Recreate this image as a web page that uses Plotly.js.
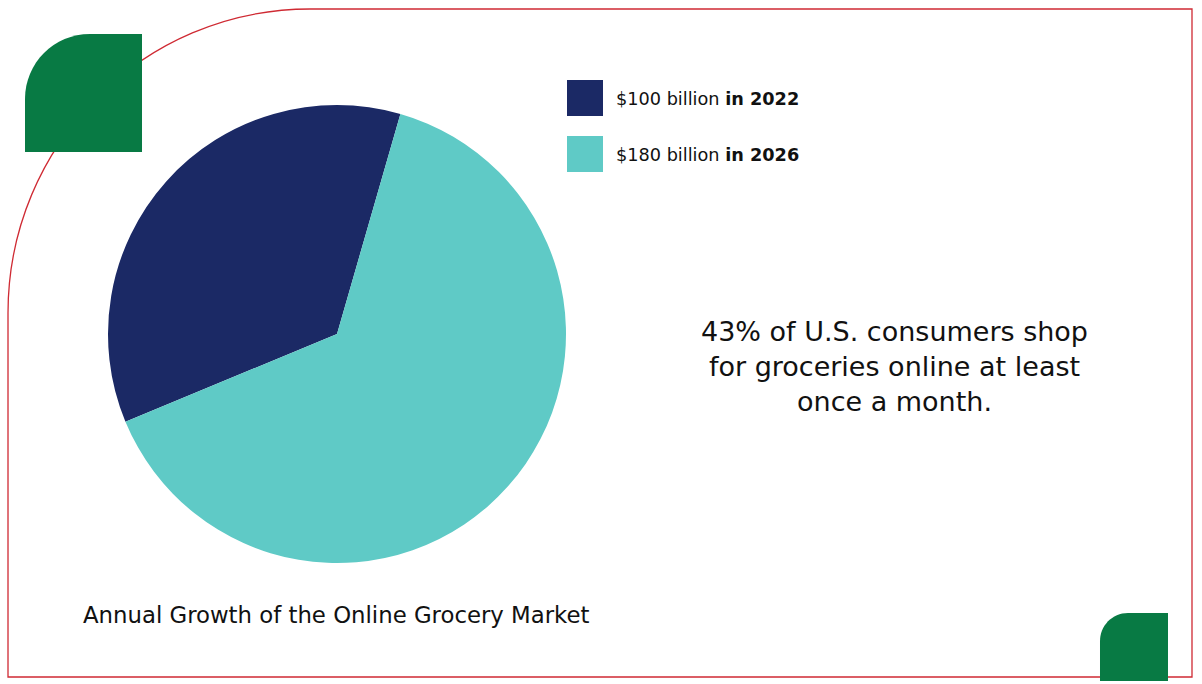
<!DOCTYPE html>
<html>
<head>
<meta charset="utf-8">
<script src="https://cdn.plot.ly/plotly-3.0.1.min.js"></script>
<style>html,body{margin:0;padding:0;background:#fff;}#chart{width:1202px;height:684px;}</style>
</head>
<body>
<div id="chart"></div>
<script>
// Data
const sliceLabels = ["$100 billion in 2022", "$180 billion in 2026"];
const sliceValues = [100, 180];
const legendAmounts = ["$100 billion", "$180 billion"];
const legendYears = ["in 2022", "in 2026"];
const sliceColors = ["#1b2965", "#5fcac6"];
const chartTitle = "Annual Growth of the Online Grocery Market";
const noteText = "43% of U.S. consumers shop<br>for groceries online at least<br>once a month.";

const W = 1202, H = 684;
const px = x => x / W;
const py = y => 1 - y / H;
const FONT = "'DejaVu Sans', sans-serif";

function pathPx(cmds) {
  return cmds.map(c => {
    const op = c[0];
    const nums = [];
    for (let i = 1; i < c.length; i += 2) nums.push(px(c[i]).toFixed(5) + "," + py(c[i + 1]).toFixed(5));
    return op + nums.join(" ");
  }).join(" ");
}

const shapes = [];
shapes.push({
  type: "path", xref: "paper", yref: "paper",
  path: pathPx([["M", 8, 677], ["L", 8, 313], ["C", 8, 145, 143, 9, 310, 9], ["L", 1192, 9], ["L", 1192, 677], ["Z"]]),
  line: { color: "#cf2a33", width: 1.3 }, fillcolor: "rgba(0,0,0,0)"
});
shapes.push({
  type: "path", xref: "paper", yref: "paper",
  path: pathPx([["M", 25, 152], ["L", 25, 99], ["C", 25, 63, 54, 34, 90, 34], ["L", 142, 34], ["L", 142, 152], ["Z"]]),
  line: { width: 0 }, fillcolor: "#087a44"
});
shapes.push({
  type: "path", xref: "paper", yref: "paper",
  path: pathPx([["M", 1100, 681], ["L", 1100, 641], ["C", 1100, 626, 1112, 613, 1128, 613], ["L", 1168, 613], ["L", 1168, 681], ["Z"]]),
  line: { width: 0 }, fillcolor: "#087a44"
});
const annotations = [];
for (let i = 0; i < sliceLabels.length; i++) {
  const top = 80 + i * 56;
  shapes.push({
    type: "rect", xref: "paper", yref: "paper",
    x0: px(567), x1: px(603), y0: py(top + 36), y1: py(top),
    line: { width: 0 }, fillcolor: sliceColors[i]
  });
  annotations.push({
    xref: "paper", yref: "paper", x: px(614), y: py(top + 19),
    xanchor: "left", yanchor: "middle", showarrow: false,
    text: legendAmounts[i] + " <b>" + legendYears[i] + "</b>",
    font: { family: FONT, size: 17.7, color: "#111" }
  });
}
annotations.push({
  xref: "paper", yref: "paper", x: px(894), y: py(366),
  xanchor: "center", yanchor: "middle", showarrow: false, align: "center",
  text: noteText,
  font: { family: FONT, size: 27, color: "#111" }
});
annotations.push({
  xref: "paper", yref: "paper", x: px(81), y: py(615),
  xanchor: "left", yanchor: "middle", showarrow: false,
  text: chartTitle,
  font: { family: FONT, size: 22.8, color: "#111" }
});

const trace = {
  type: "pie",
  labels: sliceLabels,
  values: sliceValues,
  marker: { colors: sliceColors, line: { width: 0 } },
  sort: false,
  direction: "counterclockwise",
  rotation: 247.5,
  textinfo: "none",
  hoverinfo: "label+value",
  showlegend: false,
  domain: { x: [px(108), px(566)], y: [py(563), py(105)] }
};

Plotly.newPlot("chart", [trace], {
  width: W, height: H,
  margin: { l: 0, r: 0, t: 0, b: 0 },
  paper_bgcolor: "#fff",
  showlegend: false,
  shapes: shapes,
  annotations: annotations
}, { displayModeBar: false, staticPlot: true });
</script>
</body>
</html>
